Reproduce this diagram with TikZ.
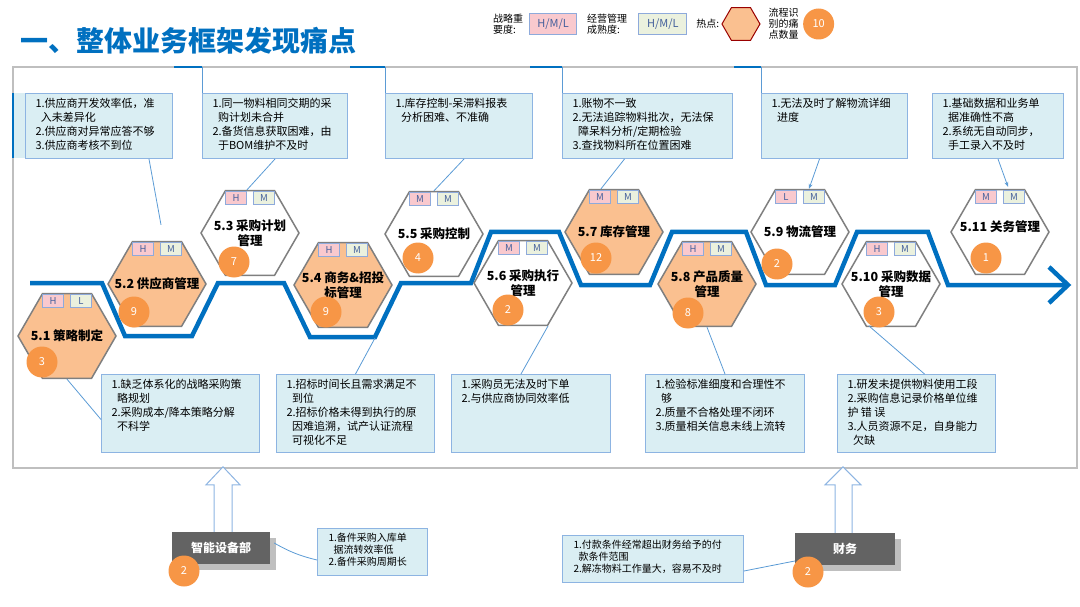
\documentclass[tikz,border=0pt]{standalone}
\usepackage{fontspec}
\setmainfont{Noto Sans CJK SC}
\usetikzlibrary{positioning,arrows.meta,shapes.geometric,shadows}
\definecolor{ttblue}{HTML}{0070C0}
\definecolor{boxfill}{HTML}{DAEEF3}
\definecolor{boxline}{HTML}{8DB4E2}
\definecolor{linkblue}{HTML}{5B9BD5}
\definecolor{hexgray}{HTML}{7F7F7F}
\definecolor{hexfill}{HTML}{FAC090}
\definecolor{numor}{HTML}{F79646}
\definecolor{bdpink}{HTML}{F9C9CE}
\definecolor{bdgreen}{HTML}{EBF1DE}
\definecolor{bdline}{HTML}{8EAADB}
\definecolor{bdtext}{HTML}{44609C}
\definecolor{deptgray}{HTML}{636363}
\definecolor{framegray}{HTML}{BFBFBF}
\newcommand{\pbtxt}[3]{\parbox[t][#2][t]{#1}{\raggedright #3}}
\newcommand{\hgap}{\hspace*{0.5em}}

\begin{document}
\begin{tikzpicture}[x=1pt, y=-1pt,
    pbox/.style={draw=boxline, fill=boxfill, line width=1pt, inner xsep=10pt, inner ysep=5pt, anchor=north west, font=\fontsize{11}{14}\selectfont},
    sbox/.style={pbox, inner xsep=11pt, font=\fontsize{10}{12}\selectfont},
    hexw/.style={regular polygon, regular polygon sides=6, minimum size=98pt, inner sep=0pt, draw=hexgray, line width=1.5pt, fill=white},
    hexo/.style={hexw, fill=hexfill},
    hlab/.style={align=center, inner sep=0pt, font=\fontsize{12.5}{15}\selectfont\bfseries},
    bdg/.style={draw=bdline, line width=0.8pt, minimum width=21pt, minimum height=13pt, inner sep=0pt, text=bdtext, font=\fontsize{9.5}{10}\selectfont},
    bdgH/.style={bdg, fill=bdpink},
    bdgM/.style={bdg, fill=bdgreen},
    num/.style={circle, fill=numor, text=white, minimum size=31pt, inner sep=0pt, font=\fontsize{11}{12}\selectfont},
    link/.style={draw=linkblue, line width=0.8pt},
    arrow/.style={link, -{Stealth[length=5pt, width=4pt]}},
    flow/.style={draw=ttblue, line width=4.5pt, line join=miter},
    topseg/.style={draw=ttblue, line width=2pt},
    hollow/.style={draw=boxline, line width=1pt, fill=white},
    dept/.style={fill=deptgray, text=white, minimum height=32pt, inner sep=0pt, font=\fontsize{12}{14}\selectfont\bfseries, drop shadow={shadow xshift=6pt, shadow yshift=-6pt, opacity=0.25, fill=black}},
    lgtxt/.style={align=left, inner sep=0pt, font=\fontsize{10}{11}\selectfont},
]
\useasboundingbox (0,0) rectangle (1080,607);
\node[anchor=west, inner sep=0pt, text=ttblue, font=\fontsize{28}{30}\selectfont\bfseries] (ttl) at (20,41) {一、整体业务框架发现痛点};

\node[lgtxt] (lg1) at (508,24) {战略重\\要度:};
\node[bdgH, minimum width=47pt, minimum height=21pt, font=\fontsize{11}{12}\selectfont, right=6pt of lg1] (lgH) {H/M/L};
\node[lgtxt, right=10pt of lgH] (lg2) {经营管理\\成熟度:};
\node[bdgM, minimum width=48pt, minimum height=21pt, font=\fontsize{11}{12}\selectfont, right=11pt of lg2] (lgM) {H/M/L};
\node[lgtxt, right=9pt of lgM] (lg3) {热点:};
\node[hexo, minimum size=38pt, draw=red!60!black, line width=1pt, right=2pt of lg3] (lghex) {};
\node[lgtxt, right=8pt of lghex] (lg4) {流程识\\别的痛\\点数量};
\node[num, right=4pt of lg4] (lgn) {10};

\draw[framegray, line width=1.5pt] (13,67) rectangle (1077,468);

\draw[flow] (30,283) -- (102,283) -- (125,336) -- (192,336) -- (218,283) -- (284,283) -- (310,337) -- (375,337) -- (401,283) -- (471,283) -- (491,232) -- (559,232) -- (581,285) -- (650,285) -- (672,232) -- (746,232) -- (766,285) -- (835,285) -- (857,232) -- (928,232) -- (948,285) -- (1066,285);
\draw[flow] (1049,267) -- (1068,285) -- (1049,303);

\node[hexo] (h51) at (67,336) {}; \node[hlab] (t51) at (h51) {5.1 策略制定};
\node[bdgH] (r51) at ([shift={(-14,-35)}]h51.center) {H}; \node[bdgM] (g51) at ([shift={(14,-35)}]h51.center) {L};
\node[num] (n51) at ([shift={(-25,26)}]h51.center) {3};

\node[hexo] (h52) at (157,284) {}; \node[hlab] (t52) at (h52) {5.2 供应商管理};
\node[bdgH] (r52) at ([shift={(-14,-35)}]h52.center) {H}; \node[bdgM] (g52) at ([shift={(14,-35)}]h52.center) {M};
\node[num] (n52) at ([shift={(-23,28)}]h52.center) {9};

\node[hexw] (h53) at (250,233) {}; \node[hlab] (t53) at (h53) {5.3 采购计划\\管理};
\node[bdgH] (r53) at ([shift={(-14,-35)}]h53.center) {H}; \node[bdgM] (g53) at ([shift={(14,-35)}]h53.center) {M};
\node[num] (n53) at ([shift={(-16,29)}]h53.center) {7};

\node[hexo] (h54) at (343,285) {}; \node[hlab] (t54) at (h54) {5.4 商务\&招投\\标管理};
\node[bdgH] (r54) at ([shift={(-14,-35)}]h54.center) {H}; \node[bdgM] (g54) at ([shift={(14,-35)}]h54.center) {M};
\node[num] (n54) at ([shift={(-17,27)}]h54.center) {9};

\node[hexw] (h55) at (434,234) {}; \node[hlab] (t55) at (h55) {5.5 采购控制};
\node[bdgH] (r55) at ([shift={(-14,-35)}]h55.center) {M}; \node[bdgM] (g55) at ([shift={(14,-35)}]h55.center) {M};
\node[num] (n55) at ([shift={(-16,24)}]h55.center) {4};

\node[hexw] (h56) at (523,283) {}; \node[hlab] (t56) at (h56) {5.6 采购执行\\管理};
\node[bdgH] (r56) at ([shift={(-14,-35)}]h56.center) {M}; \node[bdgM] (g56) at ([shift={(14,-35)}]h56.center) {M};
\node[num] (n56) at ([shift={(-15,27)}]h56.center) {2};

\node[hexo] (h57) at (614,232) {}; \node[hlab] (t57) at (h57) {5.7 库存管理};
\node[bdgH] (r57) at ([shift={(-14,-35)}]h57.center) {M}; \node[bdgM] (g57) at ([shift={(14,-35)}]h57.center) {M};
\node[num] (n57) at ([shift={(-18,26)}]h57.center) {12};

\node[hexo] (h58) at (707,284) {}; \node[hlab] (t58) at (h58) {5.8 产品质量\\管理};
\node[bdgH] (r58) at ([shift={(-14,-35)}]h58.center) {H}; \node[bdgM] (g58) at ([shift={(14,-35)}]h58.center) {M};
\node[num] (n58) at ([shift={(-19,29)}]h58.center) {8};

\node[hexw] (h59) at (800,232) {}; \node[hlab] (t59) at (h59) {5.9 物流管理};
\node[bdgH] (r59) at ([shift={(-14,-35)}]h59.center) {L}; \node[bdgM] (g59) at ([shift={(14,-35)}]h59.center) {M};
\node[num] (n59) at ([shift={(-23,32)}]h59.center) {2};

\node[hexw] (h510) at (891,284) {}; \node[hlab] (t510) at (h510) {5.10 采购数据\\管理};
\node[bdgH] (r510) at ([shift={(-14,-35)}]h510.center) {H}; \node[bdgM] (g510) at ([shift={(14,-35)}]h510.center) {M};
\node[num] (n510) at ([shift={(-12,28)}]h510.center) {3};

\node[hexw] (h511) at (1000,232) {}; \node[hlab] (t511) at ([shift={(0,-5)}]h511.center) {5.11 关务管理};
\node[bdgH] (r511) at ([shift={(-14,-35)}]h511.center) {M}; \node[bdgM] (g511) at ([shift={(14,-35)}]h511.center) {M};
\node[num] (n511) at ([shift={(-14,26)}]h511.center) {1};

\fill[boxfill] (13,93) rectangle (25,158);
\draw[topseg] (13,93) -- (13,158);
\node[pbox] (b1) at (25,93) {\pbtxt{127pt}{55pt}{1.供应商开发效率低，准\\\hgap 入未差异化\\2.供应商对异常应答不够\\3.供应商考核不到位}};
\node[pbox] (b2) at (202,93) {\pbtxt{125pt}{55pt}{1.同一物料相同交期的采\\\hgap 购计划未合并\\2.备货信息获取困难，由\\\hgap 于BOM维护不及时}};
\node[pbox] (b3) at (385,93) {\pbtxt{127pt}{55pt}{1.库存控制-呆滞料报表\\\hgap 分析困难、不准确}};
\node[pbox] (b4) at (562,93) {\pbtxt{150pt}{55pt}{1.账物不一致\\2.无法追踪物料批次，无法保\\\hgap 障呆料分析/定期检验\\3.查找物料所在位置困难}};
\node[pbox] (b5) at (761,93) {\pbtxt{126pt}{55pt}{1.无法及时了解物流详细\\\hgap 进度}};
\node[pbox] (b6) at (932,93) {\pbtxt{111pt}{55pt}{1.基础数据和业务单\\\hgap 据准确性不高\\2.系统无自动同步，\\\hgap 手工录入不及时}};

\draw[link] (b2.north west) -- ++(0,-26); \draw[topseg] ([shift={(-28,-26)}]b2.north west) -- ++(28,0);
\draw[link] (b3.north west) -- ++(0,-26); \draw[topseg] ([shift={(-35,-26)}]b3.north west) -- ++(35,0);
\draw[link] (b4.north west) -- ++(0,-26); \draw[topseg] ([shift={(-32,-26)}]b4.north west) -- ++(32,0);
\draw[link] (b5.north west) -- ++(0,-26); \draw[topseg] ([shift={(-27,-26)}]b5.north west) -- ++(27,0);

\draw[link] ([shift={(-24,0)}]b1.south east) -- ([shift={(4,-16)}]h52.north);
\draw[link] (b2.south) -- ([shift={(-3,0)}]h53.north);
\draw[link] ([shift={(5,0)}]b3.south) -- (h55.north);
\draw[link] ([shift={(-23,0)}]b4.south) -- ([shift={(-13,0)}]h57.north);
\draw[arrow] ([shift={(-15,0)}]b5.south) -- ([shift={(9,0)}]h59.north);
\draw[arrow] (b6.south) -- ([shift={(8,-2)}]h511.north);

\node[pbox] (c1) at (101,374) {\pbtxt{138pt}{68pt}{1.缺乏体系化的战略采购策\\\hgap 略规划\\2.采购成本/降本策略分解\\\hgap 不科学}};
\node[pbox] (c2) at (276,374) {\pbtxt{138pt}{68pt}{1.招标时间长且需求满足不\\\hgap 到位\\2.招标价格未得到执行的原\\\hgap 因难追溯，试产认证流程\\\hgap 可视化不足}};
\node[pbox] (c3) at (451,374) {\pbtxt{139pt}{68pt}{1.采购员无法及时下单\\2.与供应商协同效率低}};
\node[pbox] (c4) at (645,374) {\pbtxt{139pt}{68pt}{1.检验标准细度和合理性不\\\hgap 够\\2.质量不合格处理不闭环\\3.质量相关信息未线上流转}};
\node[pbox] (c5) at (837,374) {\pbtxt{138pt}{68pt}{1.研发未提供物料使用工段\\2.采购信息记录价格单位维\\护 错 误\\3.人员资源不足，自身能力\\\hgap 欠缺}};

\draw[link] (h51.south) -- ([shift={(0,6)}]c1.west);
\draw[link] (c2.north) -- ([shift={(32,53)}]h54.center);
\draw[link] ([shift={(-10,0)}]c3.north) -- ([shift={(25,43)}]h56.center);
\draw[link] (c4.north) -- (h58.south);
\draw[link] ([shift={(8,0)}]c5.north) -- ([shift={(-22,42)}]h510.center);

\node[dept, minimum width=98pt] (sb1) at (221,548) {智能设备部};
\draw[hollow] ([shift={(-7,0)}]sb1.north) -- ++(0,-47) -- ++(-8,0) -- ++(17,-18) -- ++(17,18) -- ++(-8,0) -- ++(0,47);
\node[num] (ns1) at ([shift={(-37,23)}]sb1.center) {2};
\node[sbox] (tb1) at (317,528) {\pbtxt{88pt}{37pt}{1.备件采购入库单\\\hgap 据流转效率低\\2.备件采购周期长}};
\draw[link] ([shift={(4,-5)}]sb1.east) to[bend right=8] ([shift={(0,8)}]tb1.west);

\node[dept, minimum width=100pt] (fb) at (845,549) {财务};
\draw[hollow] ([shift={(-10,0)}]fb.north) -- ++(0,-48) -- ++(-10,0) -- ++(18,-18) -- ++(18,18) -- ++(-9,0) -- ++(0,48);
\node[num] (nf1) at ([shift={(-37,23)}]fb.center) {2};
\node[sbox] (tb2) at (562,535) {\pbtxt{159pt}{37pt}{1.付款条件经常超出财务给予的付\\\hgap 款条件范围\\2.解冻物料工作量大，容易不及时}};
\draw[link] ([shift={(0,12)}]tb2.east) -- ([shift={(0,12)}]fb.west);
\end{tikzpicture}
\end{document}
